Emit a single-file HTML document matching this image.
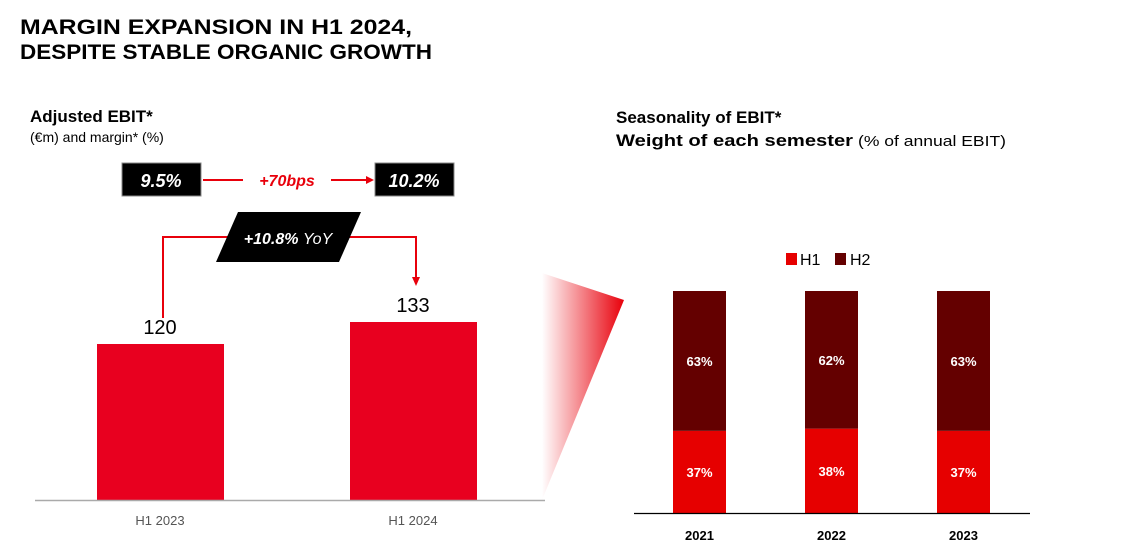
<!DOCTYPE html>
<html><head><meta charset="utf-8"><style>
body{margin:0;width:1145px;height:552px;background:#fff;overflow:hidden;font-family:"Liberation Sans",sans-serif}
</style></head><body>
<svg width="1145" height="552" xmlns="http://www.w3.org/2000/svg" font-family="Liberation Sans, sans-serif">
<defs><linearGradient id="wg" x1="0" x2="1" y1="0" y2="0"><stop offset="0" stop-color="#fff"/><stop offset="1" stop-color="#e8000b"/></linearGradient></defs>
<text x="20" y="34" font-size="21" font-weight="bold" textLength="392" lengthAdjust="spacingAndGlyphs">MARGIN EXPANSION IN H1 2024,</text>
<text x="20" y="59" font-size="21" font-weight="bold" textLength="412" lengthAdjust="spacingAndGlyphs">DESPITE STABLE ORGANIC GROWTH</text>
<text x="30" y="122" font-size="17" font-weight="bold">Adjusted EBIT*</text>
<text x="30" y="142" font-size="14">(€m) and margin* (%)</text>
<text x="616" y="123" font-size="17" font-weight="bold">Seasonality of EBIT*</text>
<text x="616" y="146" font-size="17" font-weight="bold" textLength="237" lengthAdjust="spacingAndGlyphs">Weight of each semester</text>
<text x="858" y="146" font-size="15" textLength="148" lengthAdjust="spacingAndGlyphs">(% of annual EBIT)</text>
<rect x="122" y="163" width="79" height="33" fill="#000" stroke="#888"/>
<text x="161" y="187" font-size="18" font-weight="bold" font-style="italic" fill="#fff" text-anchor="middle">9.5%</text>
<rect x="375" y="163" width="79" height="33" fill="#000" stroke="#888"/>
<text x="414" y="187" font-size="18" font-weight="bold" font-style="italic" fill="#fff" text-anchor="middle">10.2%</text>
<line x1="203" y1="180" x2="243" y2="180" stroke="#e8000b" stroke-width="2"/>
<text x="287" y="186" font-size="16" font-weight="bold" font-style="italic" fill="#e8000b" text-anchor="middle">+70bps</text>
<line x1="331" y1="180" x2="367" y2="180" stroke="#e8000b" stroke-width="2"/>
<polygon points="366,176 374,180 366,184" fill="#e8000b"/>
<polyline points="163,318 163,237 230,237" fill="none" stroke="#e8000b" stroke-width="2"/>
<polyline points="340,237 416,237 416,278" fill="none" stroke="#e8000b" stroke-width="2"/>
<polygon points="412,277 416,286 420,277" fill="#e8000b"/>
<polygon points="238,212 361,212 339,262 216,262" fill="#000"/>
<text x="288" y="244" font-size="16" font-weight="bold" font-style="italic" fill="#fff" text-anchor="middle">+10.8% <tspan font-weight="normal">YoY</tspan></text>
<polygon points="542,273 624,300 542,500" fill="url(#wg)"/>
<g id="left"></g>
<g id="right"></g>
</svg>
<script>
const NS='http://www.w3.org/2000/svg';
function mk(p,t,a,txt){const e=document.createElementNS(NS,t);for(const k in a)e.setAttribute(k,a[k]);if(txt!=null)e.textContent=txt;p.appendChild(e);return e;}
const leftCats=['H1 2023','H1 2024'];
const leftVals=[120,133];
const L=document.getElementById('left');
const ly=v=>500-(v-27.8)*1.692;
const lx=[97,350];
leftCats.forEach((c,i)=>{
 const r=mk(L,'rect',{x:lx[i],y:ly(leftVals[i]),width:127,height:500-ly(leftVals[i]),fill:'#e8001f'});
 
 
 const t=mk(L,'text',{x:lx[i]+63,y:ly(leftVals[i])-10,'font-size':20,'text-anchor':'middle'},String(leftVals[i]));
 
 
 const xl=mk(L,'text',{x:lx[i]+63,y:525,'font-size':13,fill:'#555','text-anchor':'middle'},c);
 
 
});
const ax=mk(L,'line',{x1:35,y1:500.5,x2:545,y2:500.5,stroke:'#aaa','stroke-width':1.5});



const years=['2021','2022','2023'];
const h1=[37,38,37];
const h2=[63,62,63];
const R=document.getElementById('right');
const ry=p=>513-p*2.22;
const rx=[673,805,937];
years.forEach((y,i)=>{
 const b1=mk(R,'rect',{x:rx[i],y:ry(h1[i]),width:53,height:513-ry(h1[i]),fill:'#e60000'});
 
 
 const b2=mk(R,'rect',{x:rx[i],y:ry(h1[i]+h2[i]),width:53,height:ry(h1[i])-ry(h1[i]+h2[i]),fill:'#640000'});
 
 
 const t1=mk(R,'text',{x:rx[i]+26.5,y:(ry(h1[i])+513)/2+5,'font-size':13,'font-weight':'bold',fill:'#fff','text-anchor':'middle'},h1[i]+'%');
 
 
 const t2=mk(R,'text',{x:rx[i]+26.5,y:(ry(h1[i])+ry(h1[i]+h2[i]))/2+5,'font-size':13,'font-weight':'bold',fill:'#fff','text-anchor':'middle'},h2[i]+'%');
 
 
 const xl=mk(R,'text',{x:rx[i]+26.5,y:540,'font-size':13,'font-weight':'bold','text-anchor':'middle'},y);
 
 
});
const ax2=mk(R,'line',{x1:634,y1:513.5,x2:1030,y2:513.5,stroke:'#000','stroke-width':1.2});


const lg1=mk(R,'rect',{x:786,y:253,width:11,height:12,fill:'#e60000'});


mk(R,'text',{x:800,y:265,'font-size':16},'H1');
const lg2=mk(R,'rect',{x:835,y:253,width:11,height:12,fill:'#640000'});


mk(R,'text',{x:850,y:265,'font-size':16},'H2');
</script>
</body></html>
